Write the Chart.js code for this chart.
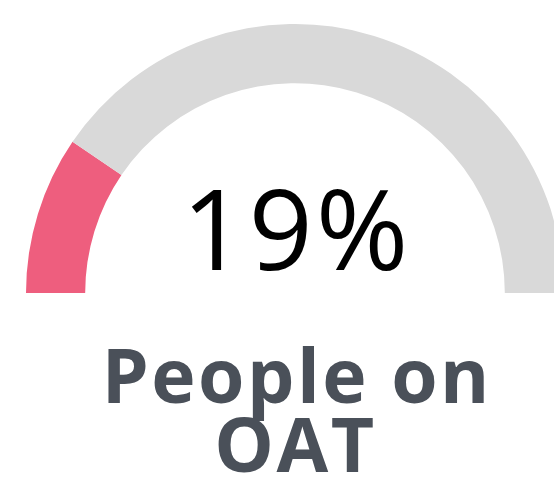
<!DOCTYPE html>
<html>
<head>
<meta charset="utf-8">
<script src="https://cdn.jsdelivr.net/npm/chart.js@4/dist/chart.umd.min.js"></script>
<style>
  html, body { margin:0; padding:0; width:554px; height:485px; overflow:hidden; background:#fff; }
  #wrap { position:absolute; left:26px; top:24px; width:538px; height:269px; }
  #value { position:absolute; left:0; width:590px; top:167px; text-align:center;
           font-family:"Open Sans", sans-serif; font-weight:400; font-size:112px; line-height:120px; color:#000;
           letter-spacing:3px; text-indent:3px; }
  #label { position:absolute; left:0; width:591px; top:340px; text-align:center;
           font-family:"Open Sans", sans-serif; font-weight:700; font-size:75px; line-height:69px; color:#4a5059;
           letter-spacing:2.5px; text-indent:2.5px; }
</style>
</head>
<body>
<div id="wrap"><canvas id="c"></canvas></div>
<div id="value"></div>
<div id="label"></div>
<script>
const categories = ["People on OAT", "Others"];
const values = [19, 81];
const colors = ["#ee5e7e", "#d9d9d9"];
const labelLines = ["People on", "OAT"];

document.getElementById('value').textContent = values[0] + "%";
document.getElementById('label').innerHTML = labelLines.join("<br>");

new Chart(document.getElementById('c'), {
  type: 'doughnut',
  data: {
    labels: categories,
    datasets: [{ data: values, backgroundColor: colors, borderWidth: 0, hoverOffset: 0 }]
  },
  options: {
    responsive: true,
    maintainAspectRatio: false,
    animation: false,
    rotation: -90,
    circumference: 180,
    cutout: '78%',
    layout: { padding: 0 },
    plugins: { legend: { display: false }, tooltip: { enabled: false } }
  }
});
</script>
</body>
</html>
